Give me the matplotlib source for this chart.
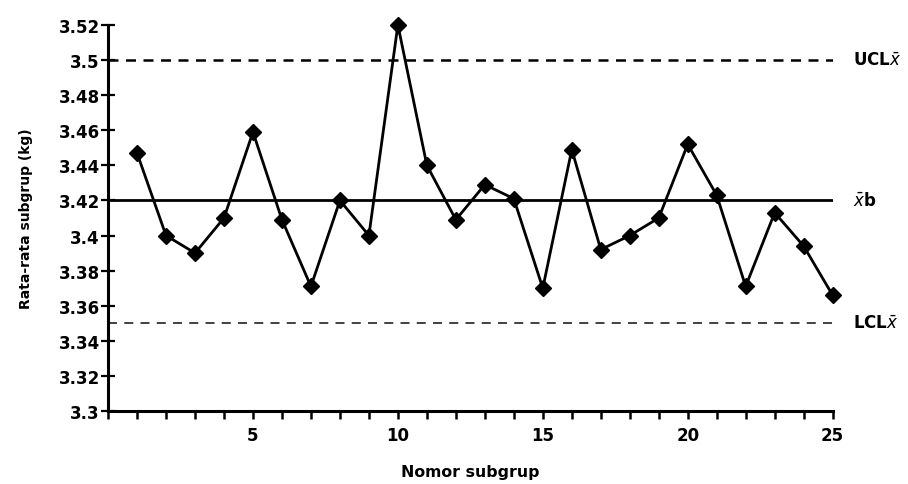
import matplotlib
matplotlib.use('Agg')
import matplotlib.pyplot as plt

# data
subgroups = list(range(1, 26))
means = [3.447, 3.400, 3.390, 3.410, 3.459, 3.409, 3.371, 3.420, 3.400, 3.520,
         3.440, 3.409, 3.429, 3.421, 3.370, 3.449, 3.392, 3.400, 3.410, 3.452,
         3.423, 3.371, 3.413, 3.394, 3.366]
ucl = 3.50
center = 3.42
lcl = 3.35
y_ticks = [3.3, 3.32, 3.34, 3.36, 3.38, 3.4, 3.42, 3.44, 3.46, 3.48, 3.5, 3.52]
y_tick_labels = ['3.3', '3.32', '3.34', '3.36', '3.38', '3.4', '3.42', '3.44',
                 '3.46', '3.48', '3.5', '3.52']
x_ticks = list(range(0, 26))
x_tick_labels = ['' if t % 5 or t == 0 else str(t) for t in x_ticks]

plt.rcParams['font.family'] = ['DejaVu Sans']
plt.rcParams['mathtext.fontset'] = 'dejavusans'

fig = plt.figure(figsize=(9.08, 4.85), dpi=100)
ax = fig.add_axes([0.119, 0.1505, 0.798, 0.796])

ax.axhline(ucl, color='black', lw=1.8, linestyle=(0, (4, 3)))
ax.axhline(center, color='black', lw=2.0)
ax.axhline(lcl, color='#333333', lw=1.3, linestyle=(0, (5, 4)))

ax.plot(subgroups, means, color='black', lw=2.0, marker='D', markersize=8.5,
        markerfacecolor='black', markeredgecolor='black', zorder=3, clip_on=False)

ax.set_xlim(0, 25)
ax.set_ylim(3.3, 3.52)
ax.set_xticks(x_ticks)
ax.set_xticklabels(x_tick_labels)
ax.set_yticks(y_ticks)
ax.set_yticklabels(y_tick_labels)

for s in ['top', 'right']:
    ax.spines[s].set_visible(False)
for s in ['left', 'bottom']:
    ax.spines[s].set_linewidth(2.2)

ax.tick_params(axis='y', direction='inout', length=10, width=1.6, labelsize=12, pad=1)
ax.tick_params(axis='x', direction='out', length=6, width=1.8, labelsize=12, pad=5)
for lbl in ax.get_xticklabels() + ax.get_yticklabels():
    lbl.set_fontweight('bold')

ax.text(25.7, ucl, r'UCL$\bar{x}$', va='center', ha='left', fontsize=12,
        fontweight='bold', clip_on=False)
ax.text(25.7, center, r'$\bar{x}$b', va='center', ha='left', fontsize=12,
        fontweight='bold', clip_on=False)
ax.text(25.7, lcl, r'LCL$\bar{x}$', va='center', ha='left', fontsize=12,
        fontweight='bold', clip_on=False)

ax.set_xlabel('Nomor subgrup', fontsize=11.3, fontweight='bold', labelpad=14)
ax.set_ylabel('Rata-rata subgrup (kg)', fontsize=10, fontweight='bold', labelpad=18)

fig.savefig('out.png', dpi=100)
